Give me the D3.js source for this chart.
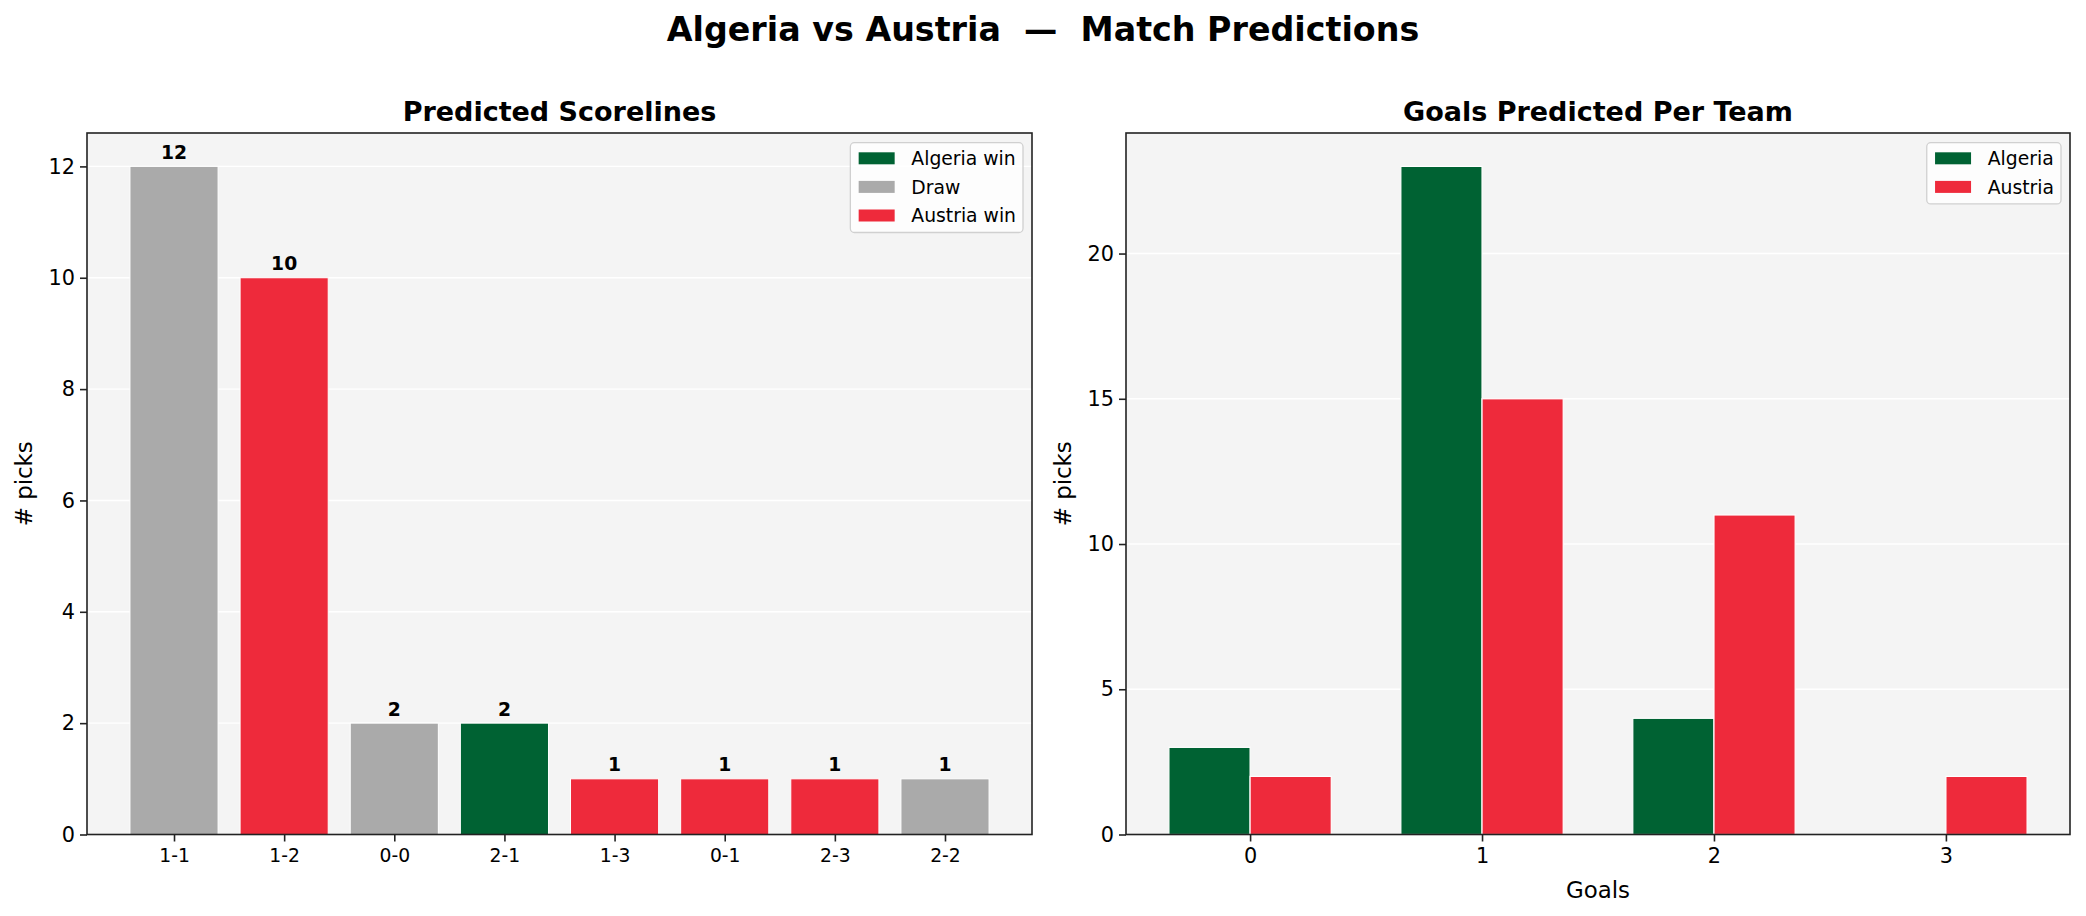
<!DOCTYPE html>
<html>
<head>
<meta charset="utf-8">
<script src="https://cdn.jsdelivr.net/npm/d3@7/dist/d3.min.js"></script>
<style>
  body { margin: 0; background: #fff; }
  svg { display: block; font-family: "DejaVu Sans", sans-serif; }
</style>
</head>
<body>
<svg id="chart" width="2086" height="916"></svg>
<script>
// scorelines panel
const scorelines = ['1-1', '1-2', '0-0', '2-1', '1-3', '0-1', '2-3', '2-2'];
const scorePicks = [12, 10, 2, 2, 1, 1, 1, 1];
const scoreOutcome = ['draw', 'austria', 'draw', 'algeria', 'austria', 'austria', 'austria', 'draw'];
const outcomeKeys = ['algeria', 'draw', 'austria'];
const outcomeLabels = ['Algeria win', 'Draw', 'Austria win'];
const scoreTicks = [0, 2, 4, 6, 8, 10, 12];

// goals panel
const goals = [0, 1, 2, 3];
const algeriaGoals = [3, 23, 4, 0];
const austriaGoals = [2, 15, 11, 2];
const goalTicks = [0, 5, 10, 15, 20];
const teamLabels = ['Algeria', 'Austria'];

const colors = { algeria: '#006233', draw: '#aaaaaa', austria: '#ee2a3b' };

const svg = d3.select('#chart');

svg.append('text')
  .attr('x', 1043).attr('y', 41)
  .attr('text-anchor', 'middle')
  .attr('font-size', 33.3).attr('font-weight', 'bold')
  .style('white-space', 'pre')
  .text('Algeria vs Austria  \u2014  Match Predictions');

function panel(box, xDomain, yMax, yTicks, title) {
  const g = svg.append('g');
  const x = d3.scaleLinear().domain(xDomain).range([box.x0, box.x1]);
  const y = d3.scaleLinear().domain([0, yMax]).range([box.y1, box.y0]);

  g.append('rect')
    .attr('x', box.x0).attr('y', box.y0)
    .attr('width', box.x1 - box.x0).attr('height', box.y1 - box.y0)
    .attr('fill', '#f4f4f4');

  g.append('g').selectAll('line')
    .data(yTicks.filter(d => d > 0))
    .enter().append('line')
    .attr('x1', box.x0).attr('x2', box.x1)
    .attr('y1', d => y(d)).attr('y2', d => y(d))
    .attr('stroke', '#fff').attr('stroke-width', 1.4);

  g.append('text')
    .attr('x', (box.x0 + box.x1) / 2).attr('y', box.y0 - 12)
    .attr('text-anchor', 'middle')
    .attr('font-size', 27).attr('font-weight', 'bold')
    .text(title);

  return { g, x, y };
}

function axes(p, box, xTicks, xFormat, xFont, yTicks) {
  const yAxis = p.g.append('g')
    .attr('transform', `translate(${box.x0},0)`)
    .call(d3.axisLeft(p.y).tickValues(yTicks).tickSize(7).tickPadding(5).tickFormat(d3.format('d')));
  yAxis.select('.domain').remove();
  yAxis.selectAll('text').attr('font-size', 20.8).attr('fill', '#000')
    .style('font-family', '"DejaVu Sans", sans-serif');
  yAxis.selectAll('line').attr('stroke', '#222').attr('stroke-width', 1.6);

  const xAxis = p.g.append('g')
    .attr('transform', `translate(0,${box.y1})`)
    .call(d3.axisBottom(p.x).tickValues(xTicks).tickSize(7).tickPadding(7).tickFormat(xFormat));
  xAxis.select('.domain').remove();
  xAxis.selectAll('text').attr('font-size', xFont).attr('fill', '#000')
    .style('font-family', '"DejaVu Sans", sans-serif');
  xAxis.selectAll('line').attr('stroke', '#222').attr('stroke-width', 1.6);

  p.g.append('rect')
    .attr('x', box.x0).attr('y', box.y0)
    .attr('width', box.x1 - box.x0).attr('height', box.y1 - box.y0)
    .attr('fill', 'none').attr('stroke', '#222').attr('stroke-width', 1.6);

  p.g.append('text')
    .attr('transform', `translate(${box.x0 - 55},${(box.y0 + box.y1) / 2}) rotate(-90)`)
    .attr('text-anchor', 'middle')
    .attr('font-size', 22.9)
    .text('# picks');
}

function legend(p, box, labels, cols) {
  const lg = p.g.append('g');
  const rowH = 28.6, fs = 18.75;
  const texts = [];
  const items = lg.selectAll('g.item').data(labels).enter().append('g');
  items.append('text')
    .attr('font-size', fs)
    .text(d => d)
    .each(function () { texts.push(this.getComputedTextLength()); });
  const tw = d3.max(texts);
  const w = 8.3 + 36 + 16.7 + tw + 7;
  const h = labels.length * rowH + 4;
  const lx = box.x1 - 9 - w, ly = box.y0 + 9.7;
  lg.insert('rect', ':first-child')
    .attr('x', lx).attr('y', ly).attr('width', w).attr('height', h)
    .attr('rx', 4).attr('fill', '#fff').attr('fill-opacity', 0.8)
    .attr('stroke', '#d0d0d0').attr('stroke-width', 1.3);
  items.each(function (d, i) {
    const cy = ly + 15.6 + i * rowH;
    const it = d3.select(this);
    it.insert('rect', 'text')
      .attr('x', lx + 8.3).attr('y', cy - 6).attr('width', 36).attr('height', 12)
      .attr('fill', cols[i]);
    it.select('text').attr('x', lx + 8.3 + 36 + 16.7).attr('y', cy + 6.8);
  });
}

// ---- left: predicted scorelines
const boxL = { x0: 87, x1: 1032, y0: 133, y1: 834.5 };
const pL = panel(boxL, [-0.79, scorelines.length - 1 + 0.79], 12.6, scoreTicks, 'Predicted Scorelines');
const barW = 0.8;
pL.g.append('g').selectAll('rect')
  .data(scorePicks)
  .enter().append('rect')
  .attr('x', (d, i) => pL.x(i - barW / 2))
  .attr('width', (d, i) => pL.x(i + barW / 2) - pL.x(i - barW / 2))
  .attr('y', d => pL.y(d))
  .attr('height', d => pL.y(0) - pL.y(d))
  .attr('fill', (d, i) => colors[scoreOutcome[i]])
  .attr('stroke', '#fff').attr('stroke-width', 1);
pL.g.append('g').selectAll('text')
  .data(scorePicks)
  .enter().append('text')
  .attr('x', (d, i) => pL.x(i))
  .attr('y', d => pL.y(d) - 7.5)
  .attr('text-anchor', 'middle')
  .attr('font-size', 18.75).attr('font-weight', 'bold')
  .text(d => d);
axes(pL, boxL, d3.range(scorelines.length), i => scorelines[i], 18.75, scoreTicks);
legend(pL, boxL, outcomeLabels, outcomeKeys.map(k => colors[k]));

// ---- right: goals per team
const boxR = { x0: 1126, x1: 2070, y0: 133, y1: 834.5 };
const pR = panel(boxR, [-0.535, 3.535], 24.15, goalTicks, 'Goals Predicted Per Team');
const gw = 0.35;
const series = [
  { vals: algeriaGoals, off: -gw / 2, col: colors.algeria },
  { vals: austriaGoals, off: gw / 2, col: colors.austria }
];
series.forEach(s => {
  pR.g.append('g').selectAll('rect')
    .data(s.vals.map((v, i) => ({ v, gx: goals[i] })).filter(d => d.v > 0))
    .enter().append('rect')
    .attr('x', d => pR.x(d.gx + s.off - gw / 2))
    .attr('width', d => pR.x(d.gx + s.off + gw / 2) - pR.x(d.gx + s.off - gw / 2))
    .attr('y', d => pR.y(d.v))
    .attr('height', d => pR.y(0) - pR.y(d.v))
    .attr('fill', s.col)
    .attr('stroke', '#fff').attr('stroke-width', 1.2);
});
axes(pR, boxR, goals, d3.format('d'), 20.8, goalTicks);
pR.g.append('text')
  .attr('x', (boxR.x0 + boxR.x1) / 2).attr('y', 898)
  .attr('text-anchor', 'middle')
  .attr('font-size', 22.9)
  .text('Goals');
legend(pR, boxR, teamLabels, [colors.algeria, colors.austria]);
</script>
</body>
</html>
